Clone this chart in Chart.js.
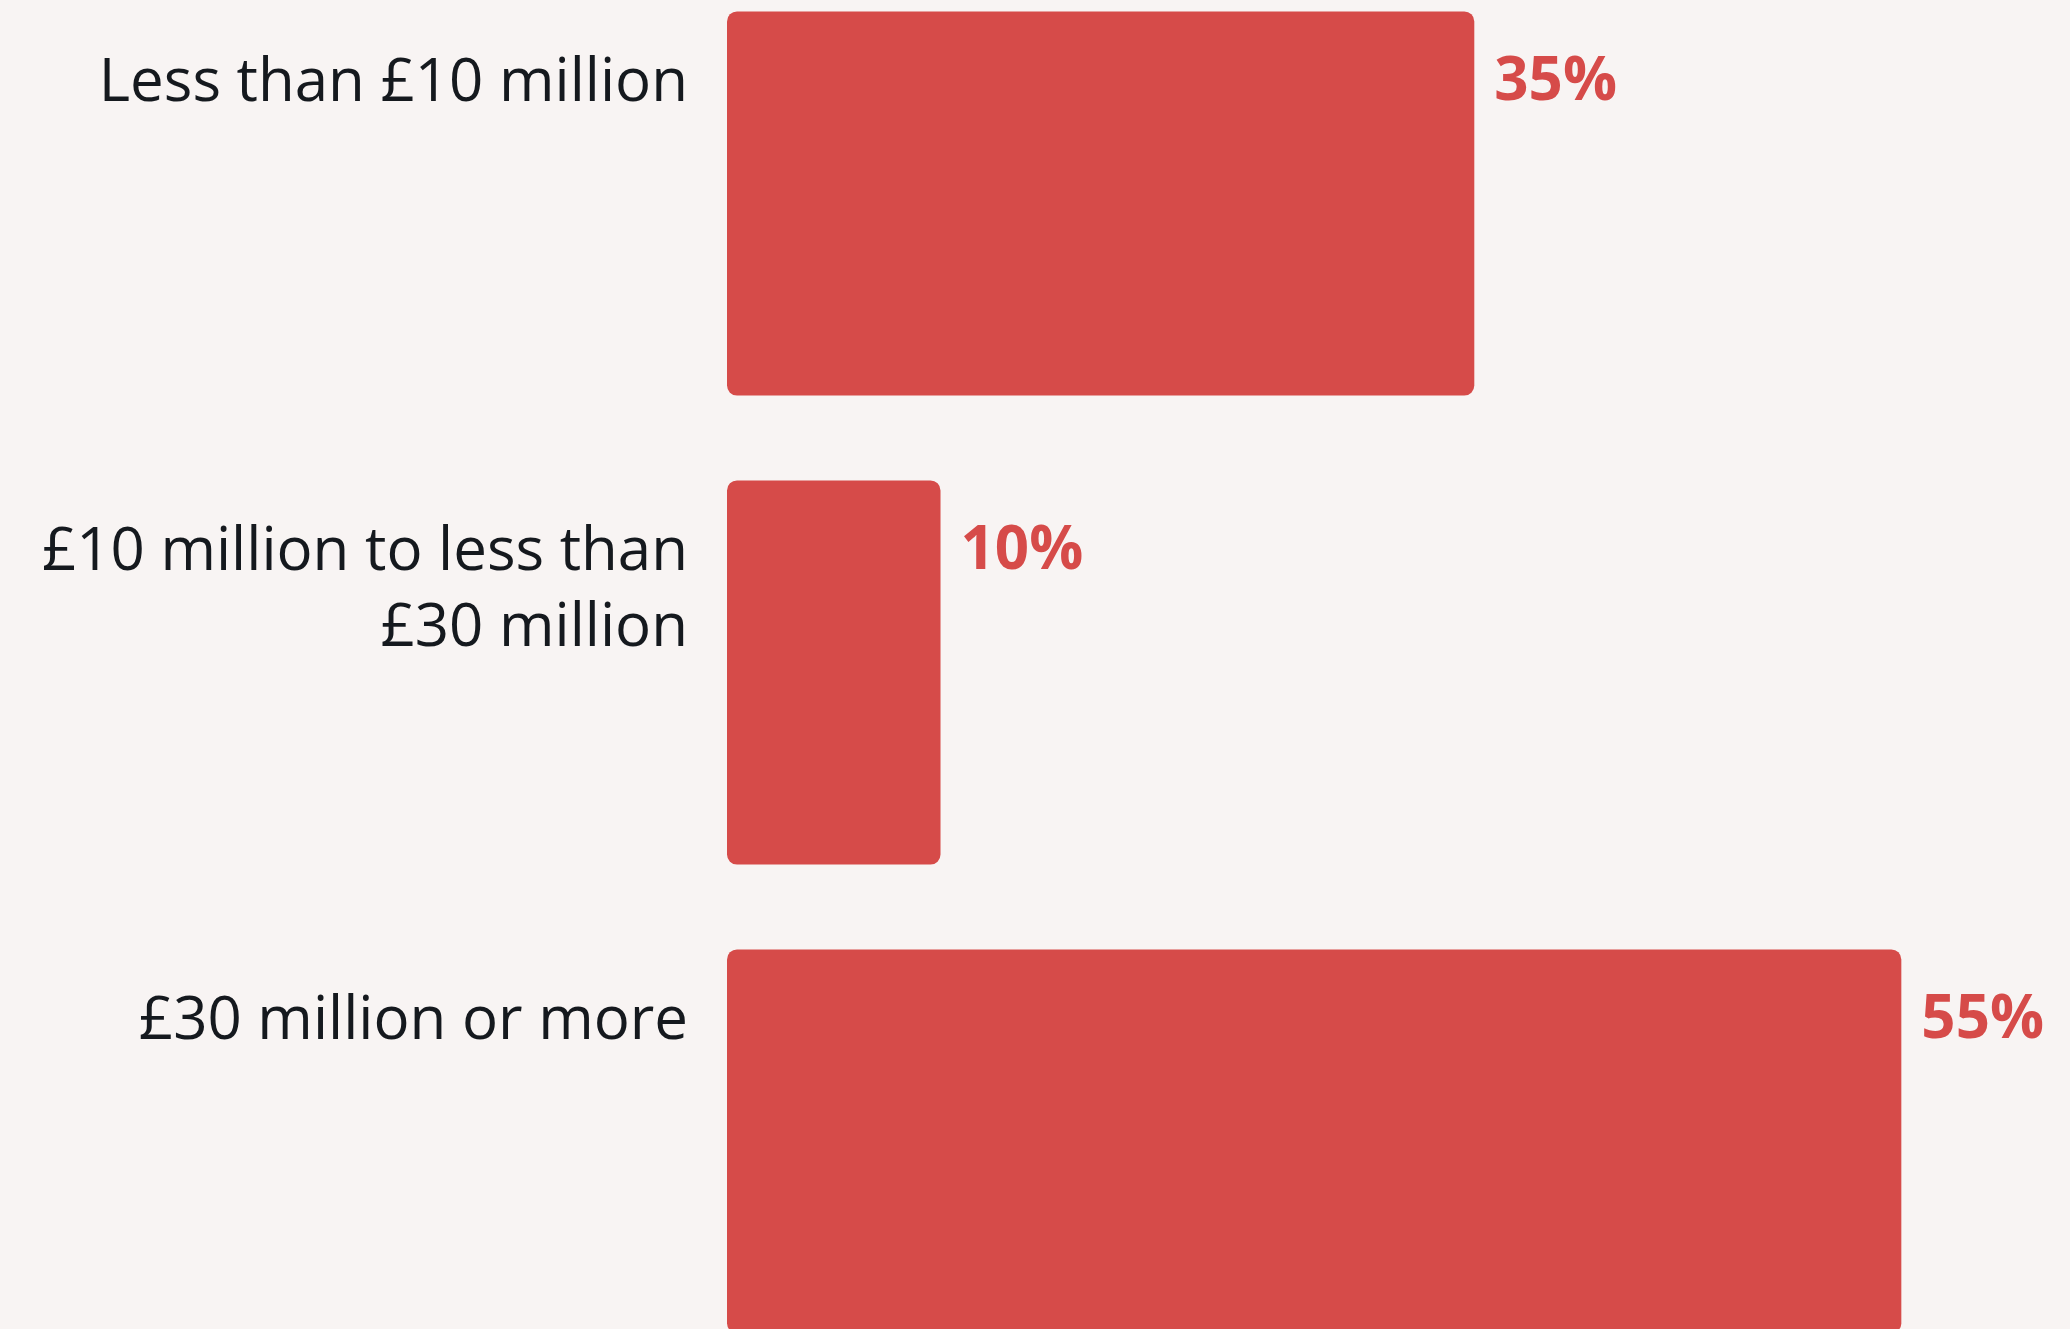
<!DOCTYPE html>
<html>
<head>
<meta charset="utf-8">
<script src="https://cdn.jsdelivr.net/npm/chart.js@4"></script>
<style>
    html, body {
        margin: 0;
        padding: 0;
        width: 2070px;
        height: 1329px;
        overflow: hidden;
        background: #f8f4f3;
    }
    #wrap {
        position: absolute;
        left: 0;
        top: -31px;
        width: 2070px;
        height: 1407px;
    }
</style>
</head>
<body>
<div id="wrap"><canvas id="myChart"></canvas></div>
<script>
const kategori = [
    ['Less than £10 million'],
    ['£10 million to less than', '£30 million'],
    ['£30 million or more'],
];
const persen = [35, 10, 55];

const warnaBar = '#d64b49';
const warnaTeks = '#15191e';
const hurufLabel = 'Open Sans';

// semua label dibuat dua baris supaya baris pertama sejajar
const labelAxis = kategori.map(k => k.length < 2 ? [k[0], ''] : k);

// angka persen di ujung kanan batang
const labelNilai = {
    id: 'labelNilai',
    afterDatasetsDraw(chart) {
        const ctx = chart.ctx;
        const meta = chart.getDatasetMeta(0);
        ctx.save();
        ctx.font = 'bold 60px "' + hurufLabel + '"';
        ctx.fillStyle = warnaBar;
        ctx.textAlign = 'left';
        ctx.textBaseline = 'middle';
        meta.data.forEach((bar, i) => {
            const atas = bar.y - bar.height / 2;
            ctx.fillText(persen[i] + '%', bar.x + 20, atas + 71);
        });
        ctx.restore();
    }
};

const ctx = document.getElementById('myChart');
const chart = new Chart(ctx, {
    type: 'bar',
    data: {
        labels: labelAxis,
        datasets: [{
            data: persen,
            backgroundColor: warnaBar,
            borderRadius: 10,
            borderSkipped: false,
            barPercentage: 1,
            categoryPercentage: 0.819
        }]
    },
    options: {
        indexAxis: 'y',
        responsive: true,
        maintainAspectRatio: false,
        animation: false,
        layout: { padding: 0 },
        plugins: {
            legend: { display: false },
            tooltip: { enabled: false }
        },
        scales: {
            x: {
                display: false,
                min: 0,
                max: 62.9
            },
            y: {
                grid: { display: false, drawTicks: false },
                border: { display: false },
                ticks: {
                    color: warnaTeks,
                    font: { family: hurufLabel, size: 60, lineHeight: 1.267 },
                    padding: 39,
                    labelOffset: -82
                },
                afterFit(scale) {
                    // lebar sumbu tetap, tanpa ruang tambahan atas/bawah
                    scale.width = 727;
                    scale.paddingTop = 0;
                    scale.paddingBottom = 0;
                }
            }
        }
    },
    plugins: [labelNilai]
});
</script>
</body>
</html>
